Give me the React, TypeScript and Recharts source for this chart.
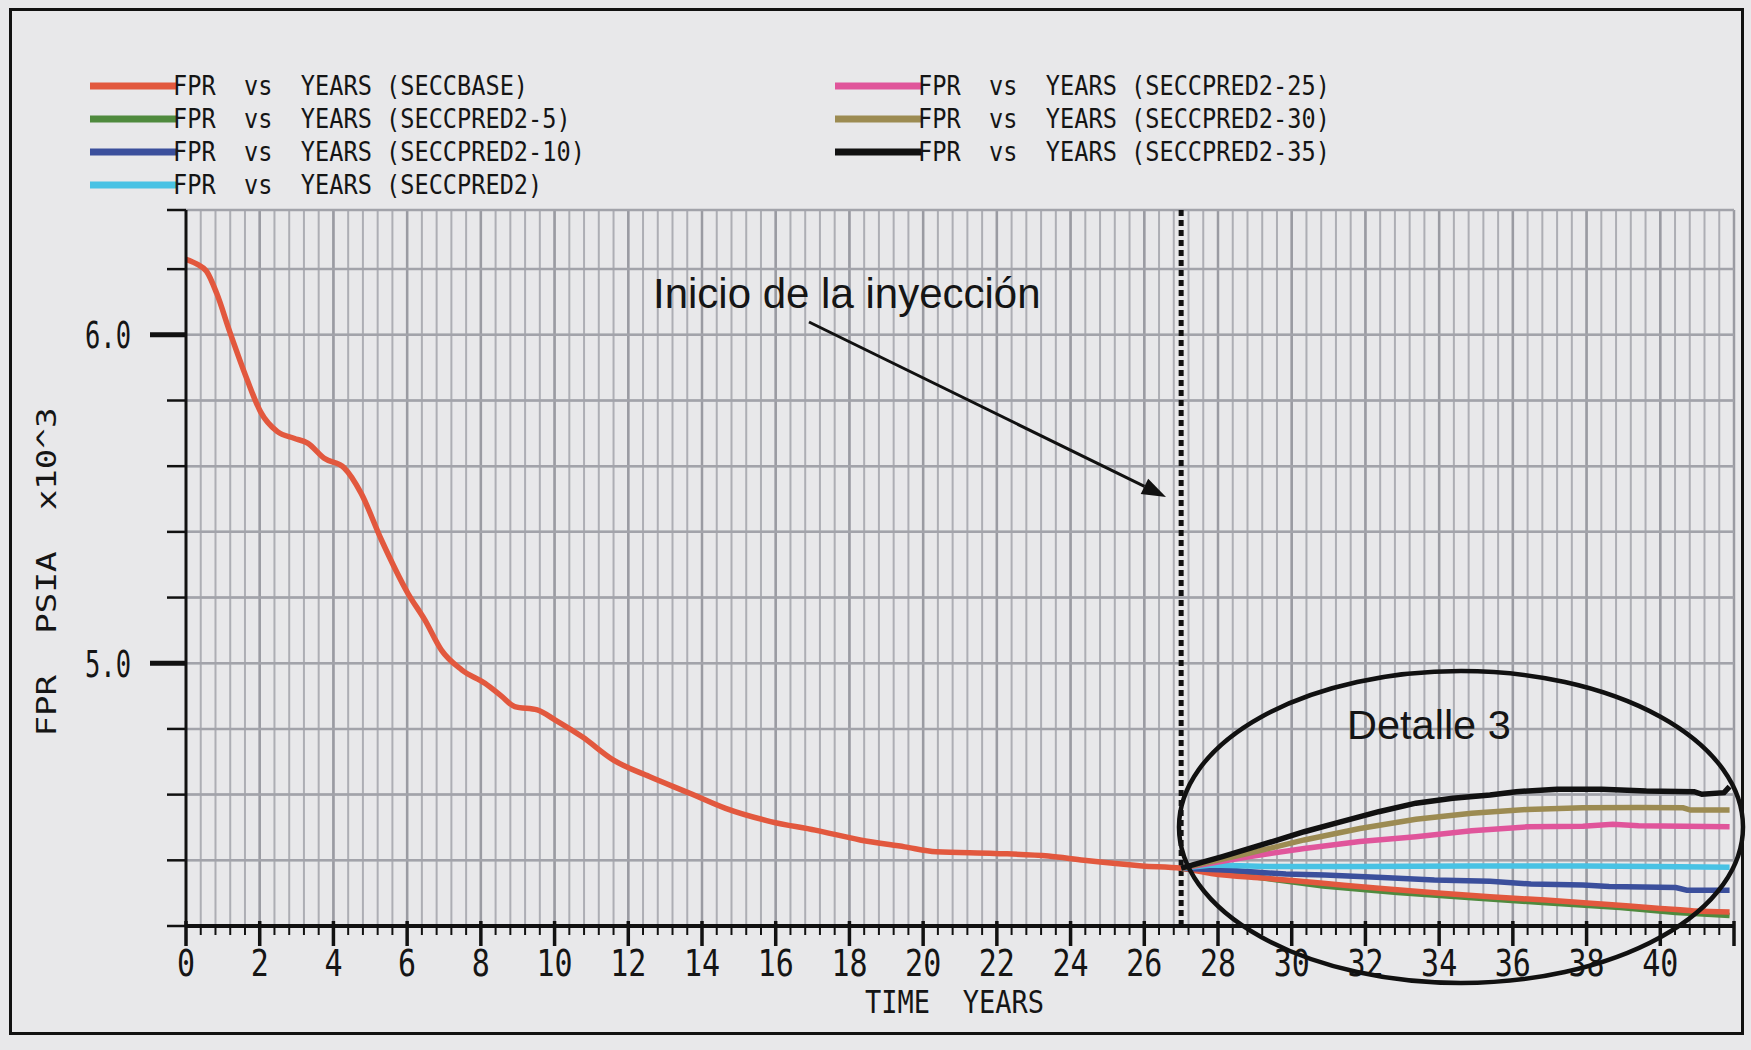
import React from 'react';
import { LineChart, Line, XAxis, YAxis, CartesianGrid, ReferenceLine } from 'recharts';

// ---------------- data ----------------
const baseYears = [0, 0.3, 0.56, 0.83, 1.2, 1.66, 2.02, 2.48, 2.93, 3.3, 3.75, 4.3, 4.75, 5.3, 6.02, 6.48, 6.93, 7.48, 8.11, 8.56, 8.92, 9.53, 10.02, 10.75, 11.6, 12.57, 13.67, 14.64, 15.86, 17.07, 18.29, 19.5, 20.35, 21.93, 23.4, 24.36, 25.94, 27.0, 27.82, 29.33, 30.85, 32.36, 33.87, 35.38, 36.89, 38.41, 39.92, 40.92, 41.88];
const basePressure = [6.23, 6.215, 6.193, 6.127, 6.005, 5.863, 5.766, 5.705, 5.685, 5.67, 5.624, 5.594, 5.518, 5.376, 5.213, 5.132, 5.04, 4.98, 4.939, 4.9, 4.868, 4.858, 4.827, 4.776, 4.705, 4.655, 4.604, 4.558, 4.518, 4.492, 4.462, 4.441, 4.426, 4.421, 4.413, 4.4, 4.383, 4.376, 4.36, 4.345, 4.33, 4.315, 4.301, 4.289, 4.279, 4.267, 4.254, 4.246, 4.243];

const pred5Years = [27, 28.83, 30.85, 32.86, 34.88, 36.89, 38.91, 40.42, 41.88];
const pred5Pressure = [4.376, 4.352, 4.322, 4.302, 4.286, 4.271, 4.256, 4.241, 4.232];

const pred10Years = [27, 28.32, 29.84, 30.9, 32.46, 33.87, 35.38, 36.49, 37.9, 38.61, 40.42, 40.72, 41.88];
const pred10Pressure = [4.376, 4.37, 4.358, 4.355, 4.348, 4.34, 4.336, 4.328, 4.325, 4.32, 4.317, 4.309, 4.309];

const pred2Years = [27, 27.82, 29.33, 31.85, 34.88, 37.9, 39.85, 41.88];
const pred2Pressure = [4.376, 4.386, 4.381, 4.381, 4.383, 4.383, 4.381, 4.379];

const pred25Years = [27, 28.83, 30.34, 31.85, 33.37, 34.88, 36.39, 37.9, 38.71, 39.41, 41.88];
const pred25Pressure = [4.376, 4.411, 4.436, 4.457, 4.472, 4.49, 4.502, 4.504, 4.51, 4.505, 4.502];

const pred30Years = [27, 28.83, 30.34, 31.85, 33.37, 34.88, 36.39, 37.9, 39.41, 40.62, 40.82, 41.88];
const pred30Pressure = [4.376, 4.421, 4.462, 4.497, 4.525, 4.543, 4.555, 4.56, 4.561, 4.56, 4.553, 4.553];

const pred35Years = [27, 28.12, 29.33, 30.34, 31.35, 32.36, 33.37, 34.37, 35.38, 36.09, 37.2, 38.41, 39.62, 40.92, 41.13, 41.73, 41.88];
const pred35Pressure = [4.376, 4.411, 4.452, 4.487, 4.518, 4.548, 4.574, 4.589, 4.599, 4.609, 4.616, 4.616, 4.611, 4.609, 4.601, 4.606, 4.624];

const caseNames = ['SECCBASE', 'SECCPRED2-5', 'SECCPRED2-10', 'SECCPRED2', 'SECCPRED2-25', 'SECCPRED2-30', 'SECCPRED2-35'];
const caseColors = ['#e2583e', '#4f8a3e', '#3b4f9c', '#48c2e4', '#e0559b', '#9c8b52', '#111111'];

const xTicks = Array.from({ length: 106 }, (_, i) => (i * 2) / 5); // 0 .. 42 every 0.4 years
const yTicks = [4.2, 4.4, 4.6, 4.8, 5.0, 5.2, 5.4, 5.6, 5.8, 6.0, 6.2, 6.38];
const yMajor = [5.0, 6.0];
const majorYears = [2, 4, 6, 8, 10, 12, 14, 16, 18, 20, 22, 24, 26, 28, 30, 32, 34, 36, 38, 40, 42];
const injectionYear = 27;

const toPoints = (xs: number[], ys: number[]) => xs.map((x, i) => ({ x, y: ys[i] }));

const series = [
  { key: 'p5', data: toPoints(pred5Years, pred5Pressure), color: caseColors[1], type: 'linear' },
  { key: 'base', data: toPoints(baseYears, basePressure), color: caseColors[0], type: 'monotone' },
  { key: 'p10', data: toPoints(pred10Years, pred10Pressure), color: caseColors[2], type: 'linear' },
  { key: 'p2', data: toPoints(pred2Years, pred2Pressure), color: caseColors[3], type: 'linear' },
  { key: 'p25', data: toPoints(pred25Years, pred25Pressure), color: caseColors[4], type: 'linear' },
  { key: 'p30', data: toPoints(pred30Years, pred30Pressure), color: caseColors[5], type: 'linear' },
  { key: 'p35', data: toPoints(pred35Years, pred35Pressure), color: caseColors[6], type: 'linear' },
];

// ---------------- helpers ----------------
const MONO = '"DejaVu Sans Mono", "Liberation Mono", monospace';
const SANS = '"Liberation Sans", Arial, sans-serif';

const PlotText = ({ x, y, text, size, sx = 1, sy = 1, anchor = 'start', rotate = 0, family = MONO, length }: any) => (
  <g transform={`translate(${x},${y}) rotate(${rotate}) scale(${sx},${sy})`}>
    <text
      x={0}
      y={0}
      fontFamily={family}
      fontSize={size}
      textAnchor={anchor}
      fill="#151515"
      xmlSpace="preserve"
      style={{ whiteSpace: 'pre' }}
      textLength={length}
      lengthAdjust={length ? 'spacingAndGlyphs' : undefined}
    >
      {text}
    </text>
  </g>
);

const XTick = (props: any) => {
  const { x, y, payload } = props;
  const v = payload.value as number;
  const i = Math.round(v * 2.5);
  const major = i % 5 === 0;
  return (
    <g>
      {major ? (
        <line x1={x} x2={x} y1={y - 5} y2={y + 20} stroke="#111" strokeWidth={3.5} />
      ) : (
        <line x1={x} x2={x} y1={y} y2={y + 9} stroke="#111" strokeWidth={2} />
      )}
      {major && v <= 40 ? <PlotText x={x} y={y + 50} text={String(Math.round(v))} size={30} sy={1.23} anchor="middle" /> : null}
    </g>
  );
};

const YTick = (props: any) => {
  const { x, y, payload } = props;
  const v = payload.value as number;
  const major = yMajor.some((m) => Math.abs(m - v) < 1e-6);
  const len = major ? 36 : 19;
  return (
    <g>
      <line x1={x - len} x2={x} y1={y} y2={y} stroke="#111" strokeWidth={major ? 5 : 2.5} />
      {major ? <PlotText x={x - 55} y={y + 13.5} text={v.toFixed(1)} size={30} sx={0.85} sy={1.23} anchor="end" /> : null}
    </g>
  );
};

const legendLeft = [0, 1, 2, 3];
const legendRight = [4, 5, 6];

const Overlay = () => {
  const a0 = { x: 809, y: 322 };
  const a1 = { x: 1166, y: 497 };
  const ang = Math.atan2(a1.y - a0.y, a1.x - a0.x);
  const hl = 24, hw = 8.5;
  const bx = a1.x - hl * Math.cos(ang), by = a1.y - hl * Math.sin(ang);
  const head = `${a1.x},${a1.y} ${bx + hw * Math.sin(ang)},${by - hw * Math.cos(ang)} ${bx - hw * Math.sin(ang)},${by + hw * Math.cos(ang)}`;
  return (
    <svg width={1751} height={1050} style={{ position: 'absolute', left: 0, top: 0, pointerEvents: 'none' }}>
      <rect x={10.5} y={9.5} width={1732} height={1024} fill="none" stroke="#111" strokeWidth={3} />
      {legendLeft.map((ci, r) => (
        <g key={ci}>
          <line x1={90} x2={176} y1={86 + r * 33} y2={86 + r * 33} stroke={caseColors[ci]} strokeWidth={7} />
          <PlotText x={173} y={95 + r * 33} text={`FPR  vs  YEARS (${caseNames[ci]})`} size={23.6} sy={1.1} />
        </g>
      ))}
      {legendRight.map((ci, r) => (
        <g key={ci}>
          <line x1={835} x2={921} y1={86 + r * 33} y2={86 + r * 33} stroke={caseColors[ci]} strokeWidth={7} />
          <PlotText x={918} y={95 + r * 33} text={`FPR  vs  YEARS (${caseNames[ci]})`} size={23.6} sy={1.1} />
        </g>
      ))}
      <PlotText x={56} y={572} rotate={-90} text="FPR  PSIA  x10^3" size={27} anchor="middle" length={329} />
      <PlotText x={865} y={1013} text="TIME  YEARS" size={27} sy={1.17} length={179} />
      <PlotText x={653} y={308} text="Inicio de la inyección" size={42} family={SANS} />
      <line x1={a0.x} y1={a0.y} x2={bx} y2={by} stroke="#111" strokeWidth={3} />
      <polygon points={head} fill="#111" />
      <ellipse cx={1461} cy={827} rx={282} ry={156} fill="none" stroke="#111" strokeWidth={4.5} />
      <PlotText x={1347} y={739} text="Detalle 3" size={41.5} family={SANS} />
    </svg>
  );
};

export default function App() {
  return (
    <div style={{ position: 'absolute', left: 0, top: 0, width: 1751, height: 1050, background: '#e8e8ea', overflow: 'hidden' }}>
      <LineChart width={1751} height={1050} margin={{ top: 210, right: 17, bottom: 0, left: 0 }}>
        <CartesianGrid stroke="#adaeb4" strokeWidth={2} />
        {majorYears.map((yr) => (
          <ReferenceLine key={yr} x={yr} stroke="#9a9ba2" strokeWidth={2.5} />
        ))}
        {yTicks.map((t) => (
          <ReferenceLine key={'h' + t} y={t} stroke="#a2a3aa" strokeWidth={2.5} />
        ))}
        <XAxis
          dataKey="x"
          type="number"
          domain={[0, 42]}
          ticks={xTicks}
          interval={0}
          allowDataOverflow
          height={124}
          tickSize={0}
          tickMargin={0}
          tickLine={false}
          axisLine={{ stroke: '#111', strokeWidth: 4 }}
          tick={(p: any) => <XTick {...p} />}
        />
        <YAxis
          type="number"
          domain={[4.2, 6.38]}
          ticks={yTicks}
          interval={0}
          allowDataOverflow
          width={186}
          tickSize={0}
          tickMargin={0}
          tickLine={false}
          axisLine={{ stroke: '#111', strokeWidth: 3 }}
          tick={(p: any) => <YTick {...p} />}
        />
        <ReferenceLine x={injectionYear} stroke="#111" strokeWidth={5} strokeDasharray="6 4" />
        {series.map((s) => (
          <Line
            key={s.key}
            data={s.data}
            dataKey="y"
            type={s.type as any}
            stroke={s.color}
            strokeWidth={5.5}
            dot={false}
            activeDot={false}
            isAnimationActive={false}
          />
        ))}
      </LineChart>
      <Overlay />
    </div>
  );
}
